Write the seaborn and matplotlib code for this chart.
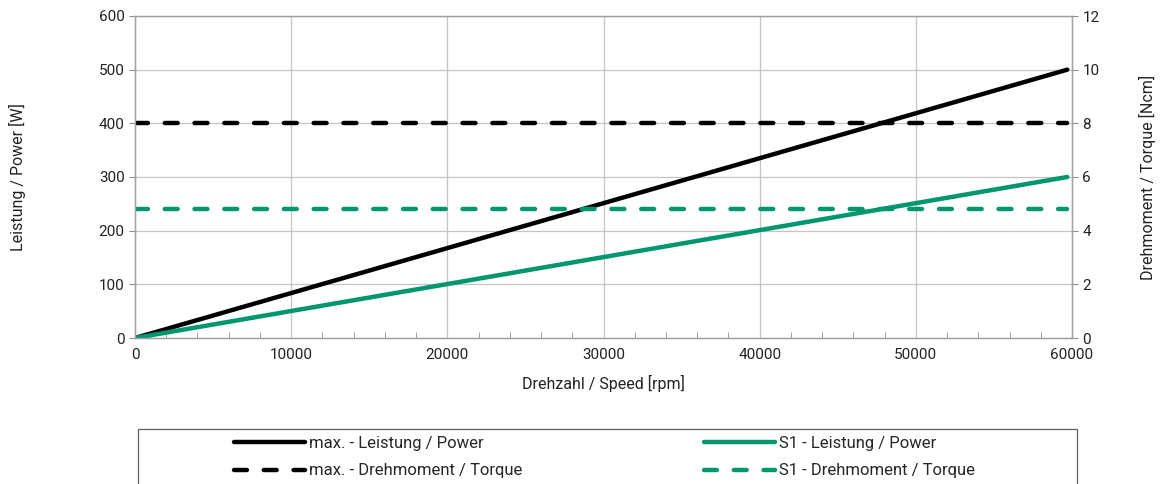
import numpy as np
import pandas as pd
import matplotlib
matplotlib.use("Agg")
import matplotlib.pyplot as plt
import seaborn as sns
from matplotlib.ticker import MultipleLocator
from matplotlib.patches import Rectangle

# data
speed = [0, 59700]
max_power = [0, 500]
s1_power = [0, 300]
max_torque = [8, 8]
s1_torque = [4.8, 4.8]

black = "#000000"
green = "#00966e"
dash = (0, (2.9, 3.8))

sns.set_style("white")
plt.rcParams["font.family"] = ["Roboto", "DejaVu Sans"]

W, H = 1160, 484
fig = plt.figure(figsize=(11.6, 4.84), dpi=100)
ax = fig.add_axes([135 / W, 1 - 338 / H, (1072 - 135) / W, (338 - 16) / H])
ax2 = ax.twinx()

df = pd.DataFrame({"speed": speed, "max_p": max_power, "s1_p": s1_power,
                   "max_t": max_torque, "s1_t": s1_torque})

kw = dict(lw=3.2, legend=False, solid_capstyle="round", dash_capstyle="round")
sns.lineplot(data=df, x="speed", y="max_p", ax=ax, color=black, label="max. - Leistung / Power", **kw)
sns.lineplot(data=df, x="speed", y="s1_p", ax=ax, color=green, label="S1 - Leistung / Power", **kw)
sns.lineplot(data=df, x="speed", y="max_t", ax=ax2, color=black, ls=dash, label="max. - Drehmoment / Torque", **kw)
sns.lineplot(data=df, x="speed", y="s1_t", ax=ax2, color=green, ls=dash, label="S1 - Drehmoment / Torque", **kw)

ax.set_xlim(0, 60000)
ax.set_ylim(0, 600)
ax2.set_ylim(0, 12)
ax.xaxis.set_major_locator(MultipleLocator(10000))
ax.xaxis.set_minor_locator(MultipleLocator(2000))
ax.yaxis.set_major_locator(MultipleLocator(100))
ax2.yaxis.set_major_locator(MultipleLocator(2))

ax.grid(True, which="major", color="#c4c4c4", lw=0.9)
ax.set_axisbelow(True)
for a in (ax, ax2):
    for s in a.spines.values():
        s.set_color("#a0a0a0")
        s.set_linewidth(0.9)
ax.tick_params(axis="both", which="major", direction="out", length=4, color="#909090", labelsize=11, labelcolor="#222222")
ax.tick_params(axis="x", which="minor", direction="in", length=4, color="#909090", bottom=True)
ax2.tick_params(axis="y", which="major", direction="out", length=4, color="#909090", labelsize=11, labelcolor="#222222")

ax.set_xlabel("Drehzahl / Speed [rpm]", fontsize=11.5, color="#222222")
ax.set_ylabel("Leistung / Power [W]", fontsize=11.5, color="#222222")
ax2.set_ylabel("Drehmoment / Torque [Ncm]", fontsize=11.5, color="#222222")
ax.xaxis.set_label_coords(0.5, (338 - 375) / 322)
ax.yaxis.set_label_coords((26 - 135) / 937, 0.5)
ax2.yaxis.set_label_coords((1139 - 135) / 937, 0.5)

# legend box
fig.patches.append(Rectangle((138 / W, -0.05), (1077 - 138) / W, 1 - 429 / H + 0.05,
                             transform=fig.transFigure, fill=False, edgecolor="#606060", lw=0.9))

h1, l1 = ax.get_legend_handles_labels()
h2, l2 = ax2.get_legend_handles_labels()
lkw = dict(loc="upper left", frameon=False, handlelength=4.25, handletextpad=0.25,
           borderpad=0, borderaxespad=0, labelspacing=0.75, fontsize=12)
fig.legend([h1[0], h2[0]], [l1[0], l2[0]], bbox_to_anchor=(234 / W, 1 - 436 / H), **lkw)
fig.legend([h1[1], h2[1]], [l1[1], l2[1]], bbox_to_anchor=(704 / W, 1 - 436 / H), **lkw)

fig.savefig("out.png", dpi=100)
